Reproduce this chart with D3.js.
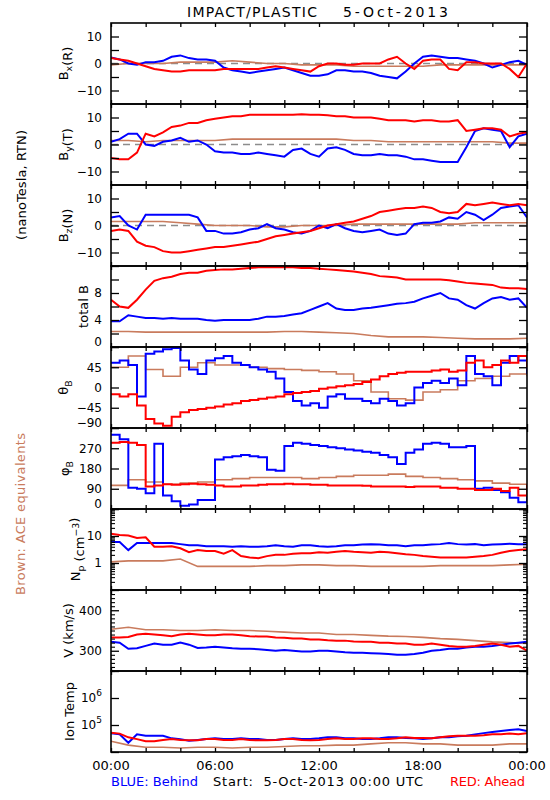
<!DOCTYPE html>
<html><head><meta charset="utf-8">
<script src="https://cdn.jsdelivr.net/npm/d3@7"></script>
<style>body{margin:0;background:#fff} svg text{font-family:"DejaVu Sans",sans-serif}</style>
</head><body><svg id="c" width="550" height="800"></svg>
<script>
// ---------- DATA ----------
const hours = [0,0.5,1,1.5,2,2.5,3,3.5,4,4.5,5,5.5,6,6.5,7,7.5,8,8.5,9,9.5,10,10.5,11,11.5,12,12.5,13,13.5,14,14.5,15,15.5,16,16.5,17,17.5,18,18.5,19,19.5,20,20.5,21,21.5,22,22.5,23,23.5,24];
const hoursACE = [0,1,2,3,4,5,6,7,8,9,10,11,12,13,14,15,16,17,18,19,20,21,22,23,24];
const timeTickLabels = ["00:00","06:00","12:00","18:00","00:00"];

const bxBehind = [2.2,1.5,0,-0.5,0.5,0.5,1,2.5,3,2,1.5,1.5,1,-1.5,-2.5,-3,-3.5,-3,-2.5,-2,-1.5,-2.5,-3.5,-4.5,-4.5,-4,-2.5,-2.5,-3,-3,-3.5,-4.5,-5,-5.5,-3,0,2.5,3,2.5,2,2,1.5,1,0,-1.5,-0.5,0.5,1,-0.5];
const bxAhead  = [2,1.5,1,0,-1,-2,-2.5,-3,-3,-2.5,-2.5,-2.5,-2.5,-2,-2,-2,-2,-2,-1.5,-1,-1.5,-2,-2.5,-3,-1,0,0,-0.5,-0.5,0,0,0,1.5,2.5,0,-2,1,1.5,1.5,-2,-2.5,0.5,0.5,0,0,0,-2,-5,0];
const bxACE    = [-0.5,0,0,0,0.5,0.5,0.5,1,0.5,0,0,-0.5,-0.5,-0.5,-1,-1,-1,-1,-1,-0.5,-0.5,-0.5,-0.5,-0.5,-0.5];

const byBehind = [1,2,4,4,0,-0.5,1,1.5,2.5,1,1.5,0,-2.5,-3,-3,-3.5,-3.5,-3,-3.5,-4,-4.5,-2,-1.5,-3.5,-4.5,-1.5,-1,-2,-3.5,-4,-4,-3.5,-4,-4,-4.5,-5.5,-5.5,-6,-6.5,-6.5,-6.5,-1,5,6,5.5,5,-1,3,4];
const byAhead  = [-5,-5.5,-5.5,-3,4,3,4.5,6.5,7,8,8,9,9.5,10,10.5,10.5,11,11,11,11,11,11,11.2,11,11,10.8,10.5,10.5,10,10,10,9.5,9,9,9,8.5,9,9,8.5,8.5,9,5,5.5,6,6,5.5,3,4,4.5];
const byACE    = [1.5,1.5,1,1.5,1.5,1.5,1.5,2,2,2,2,2,2,2,1.5,1.5,1,1,1,1,1,1,1,0.5,0.5];

const bzBehind = [3,3.5,0,-1.5,4,4,4,4,4,4,3,-2,-2,-3,-3,-2.5,-1.5,-1,0.5,-1,-1.5,-2.5,-3,-2,0,-1,0.5,-1,-2,-2.5,-2,-1.5,-3,-3.5,-3,0.5,1,1,1.5,3,2.5,5,4,2,4,6.5,7,7.5,3];
const bzAhead  = [-2,-1.5,-2,-6,-7.5,-8,-9.5,-10,-10,-9.5,-9,-8.5,-8,-8,-7.5,-7,-6.5,-6,-5,-4,-3.5,-3,-2.5,-2,-1,0,0.5,1,1.5,2.5,3.5,5,5.5,6,6.5,6.5,7,6.5,5,4.5,5,8,7.5,8,8.5,8,7.5,8,7.5];
const bzACE    = [1.5,1.5,1.5,1.5,1,0.5,0,0,0,-0.5,-0.5,0,0,0,0.5,0.5,0.5,0.5,0.5,0.5,0.5,1,1,1,1];

const btBehind = [3.8,3.8,4.7,4.5,4.3,4.3,4.2,4.3,4.2,4.2,4.2,4,3.9,4,4,4,4,4.2,4.5,4.5,4.6,4.8,5,5.5,6,6.5,5.7,5.5,5.5,5.7,5.8,6,6.2,6.4,6.5,6.7,7.2,7.6,8,7.2,7,6.2,5.7,6.5,7.2,7.4,7,7.2,5.8];
const btAhead  = [7,6,5.8,7,8.5,9.8,10.2,10.4,10.8,11,11,11.3,11.4,11.5,11.5,11.6,11.7,11.8,11.8,11.8,11.8,11.8,11.7,11.7,11.6,11.5,11.4,11.3,11.2,11,10.8,10.5,10.4,10.3,10,10,10,10,10,9.9,9.7,9.5,9.4,9.3,9.2,8.8,8.7,8.7,8.6];
const btACE    = [2.3,2.3,2.2,2.2,2.2,2.2,2.2,2.2,2.2,2.2,2.3,2.3,2.2,2.1,2,1.7,1.5,1.5,1.5,1.4,1.3,1.2,1.2,1.2,1.3];

const thBehind = [55,60,50,-20,75,80,85,88,60,40,30,60,65,70,55,50,45,40,35,20,-10,-30,-40,-35,-45,-20,-15,-25,-25,-30,-35,-25,-30,-40,-35,0,10,15,10,20,5,70,30,25,5,55,70,60,30];
const thAhead  = [-15,-20,-15,-40,-70,-80,-85,-65,-55,-50,-48,-45,-42,-38,-35,-30,-28,-25,-22,-20,-15,-12,-10,-8,-3,0,3,5,8,12,18,25,30,33,35,35,35,38,40,35,38,55,60,45,50,60,55,70,45];
const thACE    = [45,70,40,25,45,55,50,50,45,42,40,38,35,30,15,-10,-25,-28,-10,-5,15,20,25,30,25];

const phBehind = [330,310,95,90,70,290,60,35,15,20,40,40,220,230,235,240,235,230,175,170,280,295,290,285,280,275,270,265,260,255,250,240,230,200,250,265,290,295,290,275,275,280,90,95,85,75,50,30,60];
const phAhead  = [295,298,295,285,100,105,110,108,110,112,110,108,105,100,100,105,105,108,110,110,112,110,110,108,108,105,105,105,105,103,100,100,100,100,98,100,100,100,95,95,90,90,85,85,90,80,95,60,110];
const phACE    = [105,130,120,110,115,120,130,135,140,140,140,135,140,145,150,150,155,145,140,135,130,125,115,110,110];

const npBehind = [6,6,3,5.5,5.5,5.5,5.5,5.5,5,4.5,4.5,4.2,4.2,4.2,4,4.2,4,4,4.2,4.5,4.2,4,4.5,4.5,4.2,4,4.2,4.5,4.5,4.8,5,4.8,4.5,4.5,4.2,4.5,4.5,4.8,5,5.5,5,4.8,5,4.5,4.8,5,5.2,5,5];
const npAhead  = [12,11,10.5,8.5,9,4,4,4.2,3.5,2.5,3,2.8,2.8,2.2,3,1.8,1.6,1.5,1.8,2,2,2.2,2.3,2.3,2.5,2.4,2.6,2.8,2.6,2.5,2.4,2.6,2.5,2.3,2.1,2,1.8,1.7,1.6,1.6,1.6,1.6,1.7,1.8,2,2.4,2.8,3,3.2];
const npACE    = [1.1,1.2,1.2,1.2,1.4,0.75,0.75,0.75,0.75,0.8,0.8,0.85,0.85,0.8,0.8,0.75,0.75,0.75,0.75,0.8,0.8,0.8,0.8,0.85,0.9];

const vBehind = [322,320,305,306,312,318,315,315,320,315,307,308,310,308,306,305,305,304,302,300,302,300,298,298,300,300,298,296,295,295,294,293,292,290,290,292,295,300,302,305,305,308,310,310,312,315,318,320,322];
const vAhead  = [333,333,334,340,342,340,338,336,340,342,340,338,338,340,340,338,336,335,335,333,332,330,330,328,328,326,325,325,323,322,322,320,320,318,318,315,315,318,315,312,310,310,312,315,318,315,310,312,300];
const vACE    = [353,358,352,352,350,350,352,350,350,348,346,344,344,340,340,338,336,335,333,330,328,325,322,320,318];

const tBehind = [50000,45000,22000,45000,40000,40000,40000,32000,30000,26000,28000,30000,32000,30000,30000,32000,30000,30000,28000,28000,30000,32000,30000,30000,32000,35000,35000,32000,32000,30000,30000,32000,35000,35000,33000,32000,30000,32000,35000,35000,38000,40000,45000,50000,55000,60000,65000,70000,60000];
const tAhead  = [52000,48000,35000,30000,25000,25000,28000,30000,28000,27000,27000,30000,30000,28000,28000,30000,28000,27000,27000,28000,30000,30000,28000,27000,28000,30000,32000,30000,30000,32000,32000,30000,30000,32000,35000,33000,33000,32000,35000,38000,40000,40000,40000,42000,45000,45000,48000,45000,50000];
const tACE    = [25000,18000,15000,15000,14000,15000,15000,14000,15000,15000,16000,17000,17000,18000,18000,20000,22000,22000,20000,20000,18000,18000,18000,20000,20000];

// ---------- LAYOUT / STYLE ----------
const L = 111, R = 527, T = 23, PH = 81;
const BLUE = "#0000ff", RED = "#ff0000", BROWN = "#c97b5d";
const svg = d3.select("#c");
const x = d3.scaleLinear().domain([0, 24]).range([L, R]);

const panels = [
  {behind:bxBehind, ahead:bxAhead, ace:bxACE, domain:[-15,15], major:[-10,-5,0,5,10], labels:[-10,0,10], zero:true,
   title:[{t:"B"},{t:"x",sub:1},{t:"(R)"}], tx:68},
  {behind:byBehind, ahead:byAhead, ace:byACE, domain:[-15,15], major:[-10,-5,0,5,10], labels:[-10,0,10], zero:true,
   title:[{t:"B"},{t:"y",sub:1},{t:"(T)"}], tx:68},
  {behind:bzBehind, ahead:bzAhead, ace:bzACE, domain:[-15,15], major:[-10,-5,0,5,10], labels:[-10,0,10], zero:true,
   title:[{t:"B"},{t:"z",sub:1},{t:"(N)"}], tx:68},
  {behind:btBehind, ahead:btAhead, ace:btACE, domain:[0,12], major:[0,2,4,6,8,10,12], labels:[0,4,8],
   title:[{t:"total B"}], tx:88},
  {behind:thBehind, ahead:thAhead, ace:thACE, domain:[-90,90], major:[-90,-45,0,45,90], labels:[-90,-45,0,45],
   title:[{t:"θ"},{t:"B",sub:1}], tx:68, step:true},
  {behind:phBehind, ahead:phAhead, ace:phACE, domain:[0,360], major:[0,90,180,270,360], labels:[0,90,180,270],
   title:[{t:"φ"},{t:"B",sub:1}], tx:69, step:true},
  {behind:npBehind, ahead:npAhead, ace:npACE, domain:[0.1,100], log:true, major:[0.1,1,10,100], labels:[1,10],
   minor:[0.2,0.3,0.4,0.5,0.6,0.7,0.8,0.9,2,3,4,5,6,7,8,9,20,30,40,50,60,70,80,90],
   title:[{t:"N"},{t:"p",sub:1},{t:" (cm"},{t:"−3",sup:1},{t:")"}], tx:80},
  {behind:vBehind, ahead:vAhead, ace:vACE, domain:[250,450], major:[300,400], labels:[300,400],
   minor:d3.range(250,451,10).filter(v=>v!==300&&v!==400),
   title:[{t:"V (km/s)"}], tx:73},
  {behind:tBehind, ahead:tAhead, ace:tACE, domain:[1e4,1e7], log:true, major:[1e4,1e5,1e6,1e7], labels:[1e5,1e6], exp:true,
   title:[{t:"Ion Temp"}], tx:74}
];

function addRich(sel, parts, size) {
  parts.forEach(p => {
    if (p.sub) {
      sel.append("tspan").attr("font-size", size*0.72).attr("dy", 4).text(p.t);
      sel.append("tspan").attr("font-size", size).attr("dy", -4).text("");
    } else if (p.sup) {
      sel.append("tspan").attr("font-size", size*0.72).attr("dy", -5).text(p.t);
      sel.append("tspan").attr("font-size", size).attr("dy", 5).text("");
    } else {
      sel.append("tspan").attr("font-size", size).text(p.t);
    }
  });
}

const near = (a, b) => Math.abs(a - b) <= 1e-9 * Math.max(1, Math.abs(b));
const xTicks = [0,2,4,6,8,10,12,14,16,18,20,22,24];

panels.forEach((p, i) => {
  const y0 = T + i * PH, y1 = y0 + PH;
  const y = (p.log ? d3.scaleLog() : d3.scaleLinear()).domain(p.domain).range([y1, y0]);
  const cid = "clip" + i;
  svg.append("clipPath").attr("id", cid).append("rect")
     .attr("x", L).attr("y", y0).attr("width", R - L).attr("height", PH);
  const dg = svg.append("g").attr("clip-path", `url(#${cid})`);

  if (p.zero) {
    dg.append("line").attr("x1", L).attr("x2", R).attr("y1", y(0)).attr("y2", y(0))
      .attr("stroke", "#8c8c8c").attr("stroke-width", 1.5).attr("stroke-dasharray", "7,5");
  }
  const curve = p.step ? d3.curveStepAfter : d3.curveLinear;
  const mk = (xs) => d3.line().x((d, j) => x(xs[j])).y(d => y(d)).curve(curve);
  dg.append("path").datum(p.ace).attr("d", mk(hoursACE)).attr("fill", "none")
    .attr("stroke", BROWN).attr("stroke-width", 1.6);
  dg.append("path").datum(p.behind).attr("d", mk(hours)).attr("fill", "none")
    .attr("stroke", BLUE).attr("stroke-width", 2);
  dg.append("path").datum(p.ahead).attr("d", mk(hours)).attr("fill", "none")
    .attr("stroke", RED).attr("stroke-width", 2);

  // frame
  svg.append("rect").attr("x", L).attr("y", y0).attr("width", R - L).attr("height", PH)
     .attr("fill", "none").attr("stroke", "#000").attr("stroke-width", 1.6);

  const fmt = v => {
    if (!p.labels.some(l => near(v, l))) return "";
    return p.log ? d3.format("~g")(v) : d3.format("d")(v);
  };
  const la = svg.append("g").attr("transform", `translate(${L},0)`)
    .call(d3.axisLeft(y).tickValues(p.major).tickSize(-8).tickPadding(9).tickFormat(fmt));
  la.select(".domain").remove();
  la.selectAll("line").attr("stroke-width", 1.3);
  la.selectAll("text").attr("font-size", 12).attr("fill", "#000")
    .attr("font-family", "DejaVu Sans, sans-serif")
    .each(function(d) { if (near(d, p.domain[0])) d3.select(this).attr("dy", "-0.1em"); });
  if (p.exp) {
    la.selectAll("text").each(function(d) {
      const s = d3.select(this);
      if (s.text() === "") return;
      s.text("");
      const e = Math.round(Math.log10(d));
      s.append("tspan").text("10");
      s.append("tspan").attr("font-size", 9).attr("dy", -6).text(e);
    });
  }
  const ra = svg.append("g").attr("transform", `translate(${R},0)`)
    .call(d3.axisRight(y).tickValues(p.major).tickSize(-8).tickFormat(""));
  ra.select(".domain").remove();
  ra.selectAll("line").attr("stroke-width", 1.3);
  if (p.minor) {
    [["axisLeft", L], ["axisRight", R]].forEach(([fn, px]) => {
      const m = svg.append("g").attr("transform", `translate(${px},0)`)
        .call(d3[fn](y).tickValues(p.minor).tickSize(-4).tickFormat(""));
      m.select(".domain").remove();
      m.selectAll("line").attr("stroke-width", 1.1);
    });
  }
  const ta = svg.append("g").attr("transform", `translate(0,${y0})`)
    .call(d3.axisTop(x).tickValues(xTicks).tickSize(-4).tickFormat(""));
  ta.select(".domain").remove();
  ta.selectAll("line").attr("stroke-width", 1.3);
  const ba = svg.append("g").attr("transform", `translate(0,${y1})`)
    .call(d3.axisBottom(x).tickValues(xTicks).tickSize(-4).tickFormat(""));
  ba.select(".domain").remove();
  ba.selectAll("line").attr("stroke-width", 1.3);

  const tt = svg.append("text").attr("text-anchor", "middle")
    .attr("transform", `translate(${p.tx},${(y0 + y1) / 2}) rotate(-90)`);
  addRich(tt, p.title, 13);
});

const lastBottom = T + panels.length * PH;
svg.append("g").selectAll("text").data([0, 6, 12, 18, 24]).join("text")
  .attr("x", d => x(d)).attr("y", lastBottom + 18).attr("text-anchor", "middle")
  .attr("font-size", 13).text((d, k) => timeTickLabels[k]);

svg.append("text").attr("x", 187).attr("y", 17).attr("font-size", 14)
  .attr("textLength", 130).attr("lengthAdjust", "spacing").text("IMPACT/PLASTIC");
svg.append("text").attr("x", 343).attr("y", 17).attr("font-size", 14)
  .attr("textLength", 105).attr("lengthAdjust", "spacing").text("5-Oct-2013");

svg.append("text").attr("text-anchor", "middle").attr("font-size", 13)
  .attr("transform", "translate(26,185) rotate(-90)")
  .attr("textLength", 110).attr("lengthAdjust", "spacing").text("(nanoTesla, RTN)");
svg.append("text").attr("text-anchor", "middle").attr("font-size", 13).attr("fill", BROWN)
  .attr("transform", "translate(25,514) rotate(-90)")
  .attr("textLength", 162).attr("lengthAdjust", "spacing").text("Brown: ACE equivalents");

svg.append("text").attr("x", 111).attr("y", 786).attr("font-size", 13).attr("fill", BLUE)
  .attr("textLength", 87).attr("lengthAdjust", "spacing").text("BLUE: Behind");
svg.append("text").attr("x", 213).attr("y", 786).attr("font-size", 13).attr("fill", "#000")
  .attr("textLength", 210).attr("lengthAdjust", "spacing").attr("xml:space", "preserve")
  .text("Start:  5-Oct-2013 00:00 UTC");
svg.append("text").attr("x", 450).attr("y", 786).attr("font-size", 13).attr("fill", RED)
  .attr("textLength", 75).attr("lengthAdjust", "spacing").text("RED: Ahead");
</script></body></html>
